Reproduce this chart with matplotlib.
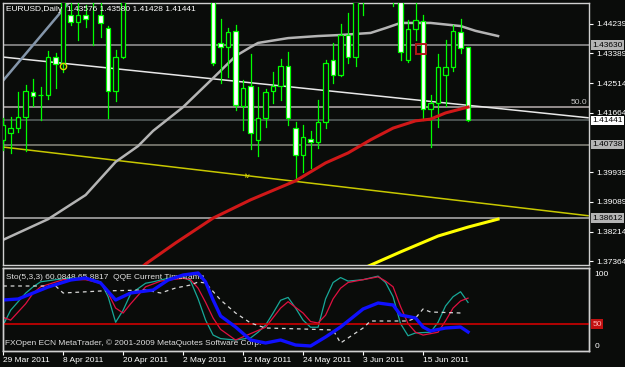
import matplotlib
matplotlib.use('Agg')
import matplotlib.pyplot as plt
import matplotlib.transforms as mtransforms

plt.rcParams['font.family'] = ['Liberation Sans', 'DejaVu Sans']

# EURUSD daily, one bar per weekday from 29 Mar 2011 to 23 Jun 2011
opens = [1.4088, 1.4108, 1.4122, 1.4154, 1.4227, 1.4218, 1.4218, 1.4328, 1.4311, 1.4450,
         1.4430, 1.4450, 1.4488, 1.4450, 1.4412, 1.4230, 1.4328, 1.4510, 1.4590, 1.4570,
         1.4580, 1.4660, 1.4780, 1.4810, 1.4810, 1.4830, 1.4835, 1.4830, 1.4540, 1.4369,
         1.4357, 1.4404, 1.4186, 1.4244, 1.4088, 1.4151, 1.4230, 1.4244, 1.4302, 1.4122,
         1.4044, 1.4090, 1.4082, 1.4140, 1.4320, 1.4276, 1.4392, 1.4328, 1.4500, 1.4630,
         1.4600, 1.4690, 1.4660, 1.4600, 1.4320, 1.4409, 1.4433, 1.4177, 1.4195, 1.4276,
         1.4299, 1.4401, 1.43576]
highs = [1.4151, 1.4154, 1.4227, 1.4247, 1.4264, 1.4241, 1.4346, 1.4340, 1.4500, 1.4500,
         1.4500, 1.4480, 1.4500, 1.4490, 1.4418, 1.4349, 1.4530, 1.4610, 1.4600, 1.4600,
         1.4680, 1.4790, 1.4880, 1.4880, 1.4860, 1.4880, 1.4940, 1.4920, 1.4560, 1.4438,
         1.4412, 1.4421, 1.4262, 1.4337, 1.4241, 1.4235, 1.4285, 1.4322, 1.4343, 1.4140,
         1.4131, 1.4114, 1.4204, 1.4320, 1.4369, 1.4424, 1.4456, 1.4520, 1.4640, 1.4700,
         1.4700, 1.4700, 1.4690, 1.4610, 1.4436, 1.4485, 1.4450, 1.4218, 1.4337, 1.4378,
         1.4421, 1.4438, 1.43580]
lows = [1.4059, 1.4050, 1.4111, 1.4056, 1.4186, 1.4146, 1.4206, 1.4238, 1.4285, 1.4421,
        1.4378, 1.4415, 1.4363, 1.4386, 1.4151, 1.4201, 1.4325, 1.4500, 1.4550, 1.4540,
        1.4560, 1.4630, 1.4770, 1.4790, 1.4770, 1.4800, 1.4820, 1.4550, 1.4305, 1.4253,
        1.4270, 1.4175, 1.4117, 1.4061, 1.4041, 1.4125, 1.4195, 1.4204, 1.4131, 1.3971,
        1.3995, 1.4006, 1.4064, 1.4122, 1.4253, 1.4273, 1.4311, 1.4302, 1.4450, 1.4590,
        1.4580, 1.4620, 1.4476, 1.4320, 1.4314, 1.4378, 1.4146, 1.4067, 1.4125, 1.4186,
        1.4288, 1.4340, 1.41428]
closes = [1.4131, 1.4122, 1.4154, 1.4230, 1.4215, 1.4219, 1.4328, 1.4308, 1.4495, 1.4430,
          1.4450, 1.4438, 1.4495, 1.4427, 1.4230, 1.4328, 1.4510, 1.4590, 1.4570, 1.4580,
          1.4660, 1.4780, 1.4810, 1.4805, 1.4830, 1.4835, 1.4830, 1.4540, 1.4311, 1.4357,
          1.4401, 1.4189, 1.4238, 1.4108, 1.4151, 1.4227, 1.4244, 1.4302, 1.4151, 1.4044,
          1.4096, 1.4082, 1.4140, 1.4311, 1.4276, 1.4392, 1.4328, 1.4500, 1.4630, 1.4600,
          1.4690, 1.4660, 1.4600, 1.4343, 1.4409, 1.4436, 1.4177, 1.4195, 1.4299, 1.4299,
          1.4404, 1.4354, 1.41441]

date_bars = [0, 8, 16, 24, 32, 40, 48, 56]
date_labels = ['29 Mar 2011', '8 Apr 2011', '20 Apr 2011', '2 May 2011',
               '12 May 2011', '24 May 2011', '3 Jun 2011', '15 Jun 2011']

# moving averages drawn on the price chart (gray and yellow are shifted forward)
gray_ma_bars = [0, 2, 6, 11, 15, 18, 20, 24, 28, 31, 33, 34, 38, 42, 45, 49, 51, 53, 57, 61, 63, 66]
gray_ma_vals = [1.3798, 1.3818, 1.3858, 1.3928, 1.4024, 1.4070, 1.4114, 1.4183, 1.4267, 1.4331,
                1.4357, 1.4369, 1.4383, 1.4389, 1.4392, 1.4398, 1.4412, 1.4427, 1.4427, 1.4418,
                1.4404, 1.4389]
red_ma_bars = [17, 19, 23, 28, 33, 39, 43, 46, 49, 52, 55, 57, 59, 62]
red_ma_vals = [1.3690, 1.3728, 1.3789, 1.3861, 1.3914, 1.3969, 1.4021, 1.4050, 1.4088, 1.4122,
               1.4143, 1.4148, 1.4166, 1.4183]
yellow_ma_bars = [48, 53, 58, 62, 66]
yellow_ma_vals = [1.3715, 1.3763, 1.3809, 1.3835, 1.3858]

# trend lines (two anchor points each)
white_trend = ([0, 78], [1.4328, 1.4152])
yellow_trend = ([0, 78], [1.4067, 1.3868])
steel_trend = ([0, 9], [1.4260, 1.4492])

# horizontal lines and their colours
h_levels = [1.43630, 1.4183, 1.41441, 1.40738, 1.38612]
h_colors = ['#9a9a9a', '#b8b0b0', '#5c6464', '#8a8a80', '#b4b4b4']

price_ticks = [1.44239, 1.43389, 1.42514, 1.41664, 1.39939, 1.39089, 1.38214, 1.37364]
boxed_prices = [1.43630, 1.41441, 1.40738, 1.38612]
boxed_colors = ['#b4b4b4', '#ffffff', '#b4b4b4', '#b4b4b4']

# Stochastic(5,3,3)
sto_main_bars = [0, 1, 3, 4, 5, 7, 9, 11, 13, 14, 15, 16, 17, 19, 20, 22, 24, 25, 26, 27, 28, 29,
                 31, 33, 34, 35, 36, 37, 38, 39, 40, 41, 42, 43, 44, 45, 46, 48, 50, 51, 52, 53,
                 54, 55, 57, 58, 59, 60, 61, 62]
sto_main_vals = [28, 49, 73, 82, 89, 92, 94, 94, 89, 68, 32, 49, 72, 87, 89, 94, 96, 90, 65, 35, 14, 9,
                 7, 10, 18, 28, 45, 63, 67, 52, 35, 25, 25, 65, 88, 95, 90, 92, 97, 88, 68, 30,
                 13, 17, 18, 32, 55, 68, 75, 60]
sto_sig_bars = [0, 1, 3, 4, 5, 8, 11, 13, 14, 15, 16, 17, 19, 21, 24, 25, 26, 27, 28, 29, 31, 33,
                35, 37, 38, 40, 41, 42, 43, 44, 45, 46, 48, 50, 51, 52, 53, 54, 55, 56, 58, 59,
                60, 61, 62]
sto_sig_vals = [39, 35, 58, 73, 82, 92, 92, 87, 73, 52, 45, 58, 82, 90, 94, 92, 80, 60, 38, 22, 7, 16,
                25, 52, 61, 45, 33, 31, 42, 65, 80, 88, 92, 96, 90, 82, 54, 30, 18, 14, 18, 34,
                52, 62, 66]

# QQE (own scale, level 50)
qqe_bars = [0, 2, 4, 6, 9, 11, 13, 15, 17, 20, 22, 24, 26, 27, 28, 29, 31, 33, 35, 37, 39, 41,
            43, 45, 48, 50, 52, 53, 55, 56, 57, 59, 61, 62]
qqe_vals = [62, 62.5, 65.5, 68.5, 72, 73, 70.5, 62, 65.5, 67, 72, 74.5, 75.5, 71, 62, 54, 48.5, 42,
            40.5, 42, 39.5, 39, 43.5, 48.5, 57.5, 60.5, 59.5, 54.5, 53, 48.5, 46.5, 48, 48.5, 46]
qqe_trail_bars = [0, 7, 8, 13, 19, 21, 23, 25, 26, 27, 29, 31, 33, 35, 40, 44, 45, 46, 48, 49, 54,
                  55, 56, 57, 61]
qqe_trail_vals = [69, 69, 65.5, 66.5, 67, 65.5, 68, 69.5, 71, 70.5, 62, 55.5, 50.5, 48, 47.5, 47, 40.5,
                  43, 48, 51.5, 51.5, 53, 57.5, 56, 55.5]

marker_circle = ([8], [1.4302])
marker_square = ([55.7], [1.4351])

bg = '#0a0c0a'
frame = '#d0d0d0'
lime = '#00ff00'

fig = plt.figure(figsize=(6.25, 3.67), dpi=100, facecolor=bg)
W, H = 625.0, 367.0
ax = fig.add_axes([3 / W, 1 - 265 / H, 586 / W, 262 / H], facecolor=bg)
ax2 = fig.add_axes([3 / W, 1 - 351 / H, 586 / W, 83 / H], facecolor=bg)

xlim = (-0.02, 78.13)

# ---- price panel
for lvl, col in zip(h_levels, h_colors):
    ax.axhline(lvl, color=col, lw=1.1, zorder=1)

ax.plot(*white_trend, color='#e8e8e8', lw=1.1, zorder=2)
ax.plot(*yellow_trend, color='#c8c800', lw=1.1, zorder=2)
ax.plot(*steel_trend, color='#8496aa', lw=1.8, zorder=2)
ax.plot(gray_ma_bars, gray_ma_vals, color='#b4b4b4', lw=1.8, zorder=2)

for k in range(len(opens)):
    o, h, l, c = opens[k], highs[k], lows[k], closes[k]
    ax.plot([k, k], [l, h], color=lime, lw=0.9, zorder=3)
    bottom = min(o, c)
    height = max(abs(c - o), 0.00002)
    face = bg if c >= o else 'white'
    ax.bar(k, height, bottom=bottom, width=0.6, color=face, edgecolor=lime,
           linewidth=0.9, zorder=4)

ax.plot(red_ma_bars, red_ma_vals, color='#d01818', lw=2.2, zorder=5)
ax.plot(yellow_ma_bars, yellow_ma_vals, color='#ffff00', lw=2.2, zorder=5)

ax.plot(*marker_circle, marker='o', ms=4.5, mfc='none', mec='#d8d800', mew=1.0, zorder=6)
ax.plot(*marker_square, marker='s', ms=7.5, mfc='none', mec='#b01818', mew=1.4, zorder=6)

ax.text(32.6, 1.3983, 'iv', color='#d8d800', fontsize=5.5, ha='center', va='center')
ax.text(77.9, 1.4187, '50.0', color='#c8c8c8', fontsize=6, ha='right', va='bottom')

ax.set_xlim(*xlim)
ax.set_ylim(1.3725, 1.44848)
ax.set_xticks([])
ax.yaxis.tick_right()
ax.set_yticks(price_ticks)
ax.set_yticklabels(['%.5f' % p for p in price_ticks])
ax.tick_params(axis='y', colors='white', length=3, width=0.8, labelsize=6, pad=2)

trans = mtransforms.blended_transform_factory(ax.transAxes, ax.transData)
for p, col in zip(boxed_prices, boxed_colors):
    ax.text(1.006, p, '%.5f' % p, transform=trans, color='black', fontsize=6,
            ha='left', va='center',
            bbox=dict(boxstyle='square,pad=0.15', fc=col, ec='none'))

for s in ax.spines.values():
    s.set_color(frame)
    s.set_linewidth(1)

fig.text(6 / W, 1 - 9.5 / H, 'EURUSD,Daily  1.43576 1.43580 1.41428 1.41441',
         color='white', fontsize=6, ha='left', va='center')

# ---- indicator panel
ax3 = ax2.twinx()
ax3.set_ylim(36.5, 78)
ax3.axhline(50, color='#e00000', lw=1.1, zorder=1)

ax2.plot(sto_main_bars, sto_main_vals, color='#18a898', lw=0.9)
ax2.plot(sto_sig_bars, sto_sig_vals, color='#e01040', lw=0.9)
ax3.plot(qqe_trail_bars, qqe_trail_vals, color='#d8d8d8', lw=0.9, ls=(0, (3, 3)))
ax3.plot(qqe_bars, qqe_vals, color='#1010ff', lw=2.4)

ax2.set_xlim(*xlim)
ax2.set_ylim(-8.45, 108.45)
ax2.yaxis.tick_right()
ax2.set_yticks([0, 100])
ax2.set_yticklabels(['0', '100'])
ax2.tick_params(axis='y', colors='white', length=0, labelsize=6, pad=4)
ax2.set_xticks(date_bars)
ax2.set_xticklabels(date_labels)
ax2.tick_params(axis='x', colors='white', length=3, width=0.8, labelsize=6, pad=1.5)
for t in ax2.get_xticklabels():
    t.set_horizontalalignment('left')
ax3.set_yticks([])
ax3.set_xlim(*xlim)

trans3 = mtransforms.blended_transform_factory(ax3.transAxes, ax3.transData)
ax3.text(1.006, 50, '50', transform=trans3, color='#ffb0b0', fontsize=6,
         ha='left', va='center', bbox=dict(boxstyle='square,pad=0.15', fc='#c01010', ec='none'))

for a in (ax2, ax3):
    for s in a.spines.values():
        s.set_color(frame)
        s.set_linewidth(1)

ax2.text(0.005, 0.88, 'Sto(5,3,3) 60.0848 65.8817  QQE Current Timeframe', transform=ax2.transAxes,
         color='#e0e0e0', fontsize=6, ha='left', va='center', zorder=10)
ax2.text(0.004, 0.10, 'FXOpen ECN MetaTrader, \u00a9 2001-2009 MetaQuotes Software Corp.',
         transform=ax2.transAxes, color='#e0e0e0', fontsize=6, ha='left', va='center', zorder=10)

fig.savefig('out.png', dpi=100, facecolor=bg)
